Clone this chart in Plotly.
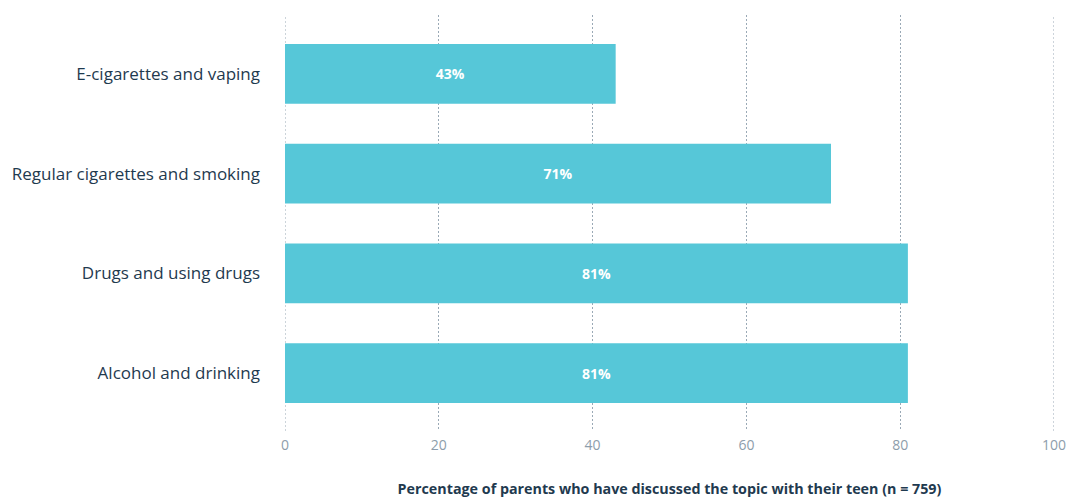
import plotly.graph_objects as go

categories = ["Alcohol and drinking", "Drugs and using drugs",
              "Regular cigarettes and smoking", "E-cigarettes and vaping"]
values = [81, 81, 71, 43]
labels = [f"{v}%" for v in values]
x_ticks = [0, 20, 40, 60, 80, 100]

FONT = "Open Sans"
GRID = "#9aa9b6"
fig = go.Figure(go.Bar(
    x=values, y=categories, orientation="h",
    marker=dict(color="#56c7d8", line=dict(width=0)),
    width=0.6,
    text=labels, textposition="inside", insidetextanchor="middle",
    textfont=dict(color="white", size=14, family=FONT),
    texttemplate="<b>%{text}</b>",
    cliponaxis=False,
))
# edge gridlines (plotly skips gridlines on the plot-area border)
for xv in (x_ticks[0], x_ticks[-1]):
    fig.add_shape(type="line", xref="x", yref="paper", x0=xv, x1=xv, y0=0, y1=1,
                  line=dict(color=GRID, width=1, dash="2px,2px"), layer="below")
fig.update_layout(
    width=1068, height=498,
    margin=dict(l=285, r=14, t=15, b=67),
    paper_bgcolor="white", plot_bgcolor="white",
    showlegend=False,
    font=dict(family=FONT, color="#1f3a4f"),
    xaxis=dict(range=[0, 100], tickvals=x_ticks, showgrid=True,
               gridcolor=GRID, griddash="2px,2px", gridwidth=1,
               zeroline=False, showline=False, automargin=False,
               tickfont=dict(size=14, color="#8d9dab"), ticklabelstandoff=4,
               title=dict(text="<b>Percentage of parents who have discussed the topic with their teen (n = 759)</b>",
                          font=dict(size=14.3, color="#1f3a4f"), standoff=30)),
    yaxis=dict(range=[-0.58, 3.59], showgrid=False, zeroline=False, showline=False,
               automargin=False,
               tickfont=dict(size=17, color="#1f3a4f"), ticklabelstandoff=24),
)
fig.write_html("out.html")
